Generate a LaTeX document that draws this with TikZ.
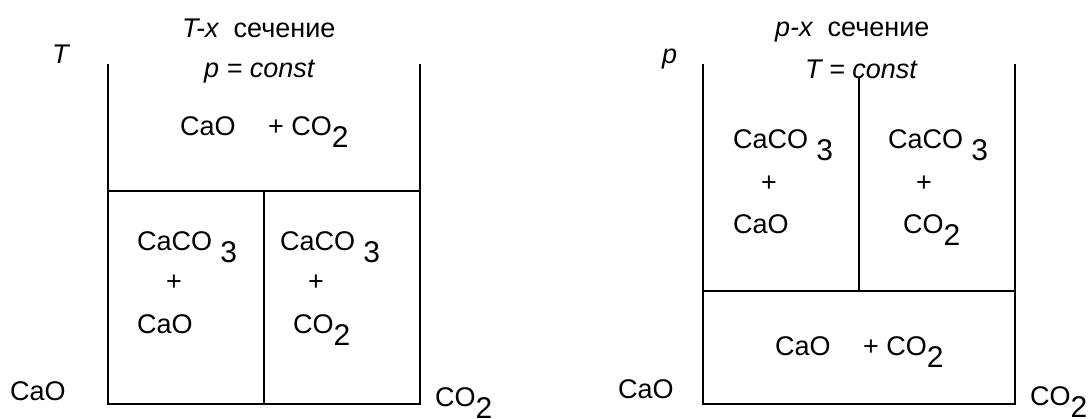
\documentclass[tikz,border=0pt]{standalone}
\usepackage{fontspec}
\setmainfont{Liberation Sans}
\newcommand{\lowsub}[1]{\raisebox{-12pt}{\fontsize{30}{34}\selectfont #1}}

\begin{document}
\begin{tikzpicture}[x = 1pt, y = -1pt, wall/.style = {line width = 2.5pt}, lbl/.style = {anchor = base west, inner sep = 0pt, font = \fontsize{27}{32}\selectfont}, ttl/.style = {lbl, font = \fontsize{27}{32}\selectfont}]

	\useasboundingbox (0, 0) rectangle (1090, 418);

	% T-x section: corners of the box

	\coordinate (tl) at (108, 64);
	\coordinate (bl) at (108, 404);
	\coordinate (br) at (420, 404);
	\coordinate (tr) at (420, 64);
	\coordinate (ml) at (108, 191);
	\coordinate (mr) at (420, 191);
	\coordinate (mm) at (264, 191);
	\coordinate (mb) at (264, 404);

	\draw[wall] (tl) -- (bl) -- (br) -- (tr);
	\draw[wall] (ml) -- (mr);
	\draw[wall] (mm) -- (mb);

	% T-x section: labels

	\node[lbl] (Taxis) at (52, 63) {\itshape T};
	\node[ttl] (Ttitle) at (182, 37) {\itshape T-x\upshape\ \ сечение};
	\node[ttl] (pconst) at (204, 77) {\itshape p = const};
	\node[lbl] (Tgas) at (180, 135) {CaO\hspace{1.2em}+ CO\lowsub{2}};
	\node[lbl] (Tcc1) at (137, 250) {CaCO\hspace{0.3em}\lowsub{3}};
	\node[lbl] (Tpl1) at (166, 290) {+};
	\node[lbl] (Tcao) at (137, 333) {CaO};
	\node[lbl] (Tcc2) at (280, 250) {CaCO\hspace{0.3em}\lowsub{3}};
	\node[lbl] (Tpl2) at (308, 290) {+};
	\node[lbl] (Tco2) at (293, 333) {CO\lowsub{2}};
	\node[lbl] (Tleft) at (10, 400) {CaO};
	\node[lbl] (Tright) at (435, 406) {CO\lowsub{2}};

	% p-x section: corners of the box

	\coordinate (ptl) at (703, 64);
	\coordinate (pbl) at (703, 404);
	\coordinate (pbr) at (1015, 404);
	\coordinate (ptr) at (1015, 64);
	\coordinate (pml) at (703, 291);
	\coordinate (pmr) at (1015, 291);
	\coordinate (pmt) at (859, 78);
	\coordinate (pmm) at (859, 291);

	\draw[wall] (ptl) -- (pbl) -- (pbr) -- (ptr);
	\draw[wall] (pml) -- (pmr);
	\draw[wall] (pmt) -- (pmm);

	% p-x section: labels

	\node[lbl] (paxis) at (662, 63) {\itshape p};
	\node[ttl] (ptitle) at (775, 36) {\itshape p-x\upshape\ \ сечение};
	\node[ttl] (Tconst) at (805, 78) {\itshape T = const};
	\node[lbl] (pcc1) at (733, 148) {CaCO\hspace{0.3em}\lowsub{3}};
	\node[lbl] (ppl1) at (761, 191) {+};
	\node[lbl] (pcao) at (733, 233) {CaO};
	\node[lbl] (pcc2) at (888, 148) {CaCO\hspace{0.3em}\lowsub{3}};
	\node[lbl] (ppl2) at (916, 191) {+};
	\node[lbl] (pco2) at (903, 233) {CO\lowsub{2}};
	\node[lbl] (pgas) at (775, 355) {CaO\hspace{1.2em}+ CO\lowsub{2}};
	\node[lbl] (pleft) at (618, 398) {CaO};
	\node[lbl] (pright) at (1030, 405) {CO\lowsub{2}};

\end{tikzpicture}
\end{document}
